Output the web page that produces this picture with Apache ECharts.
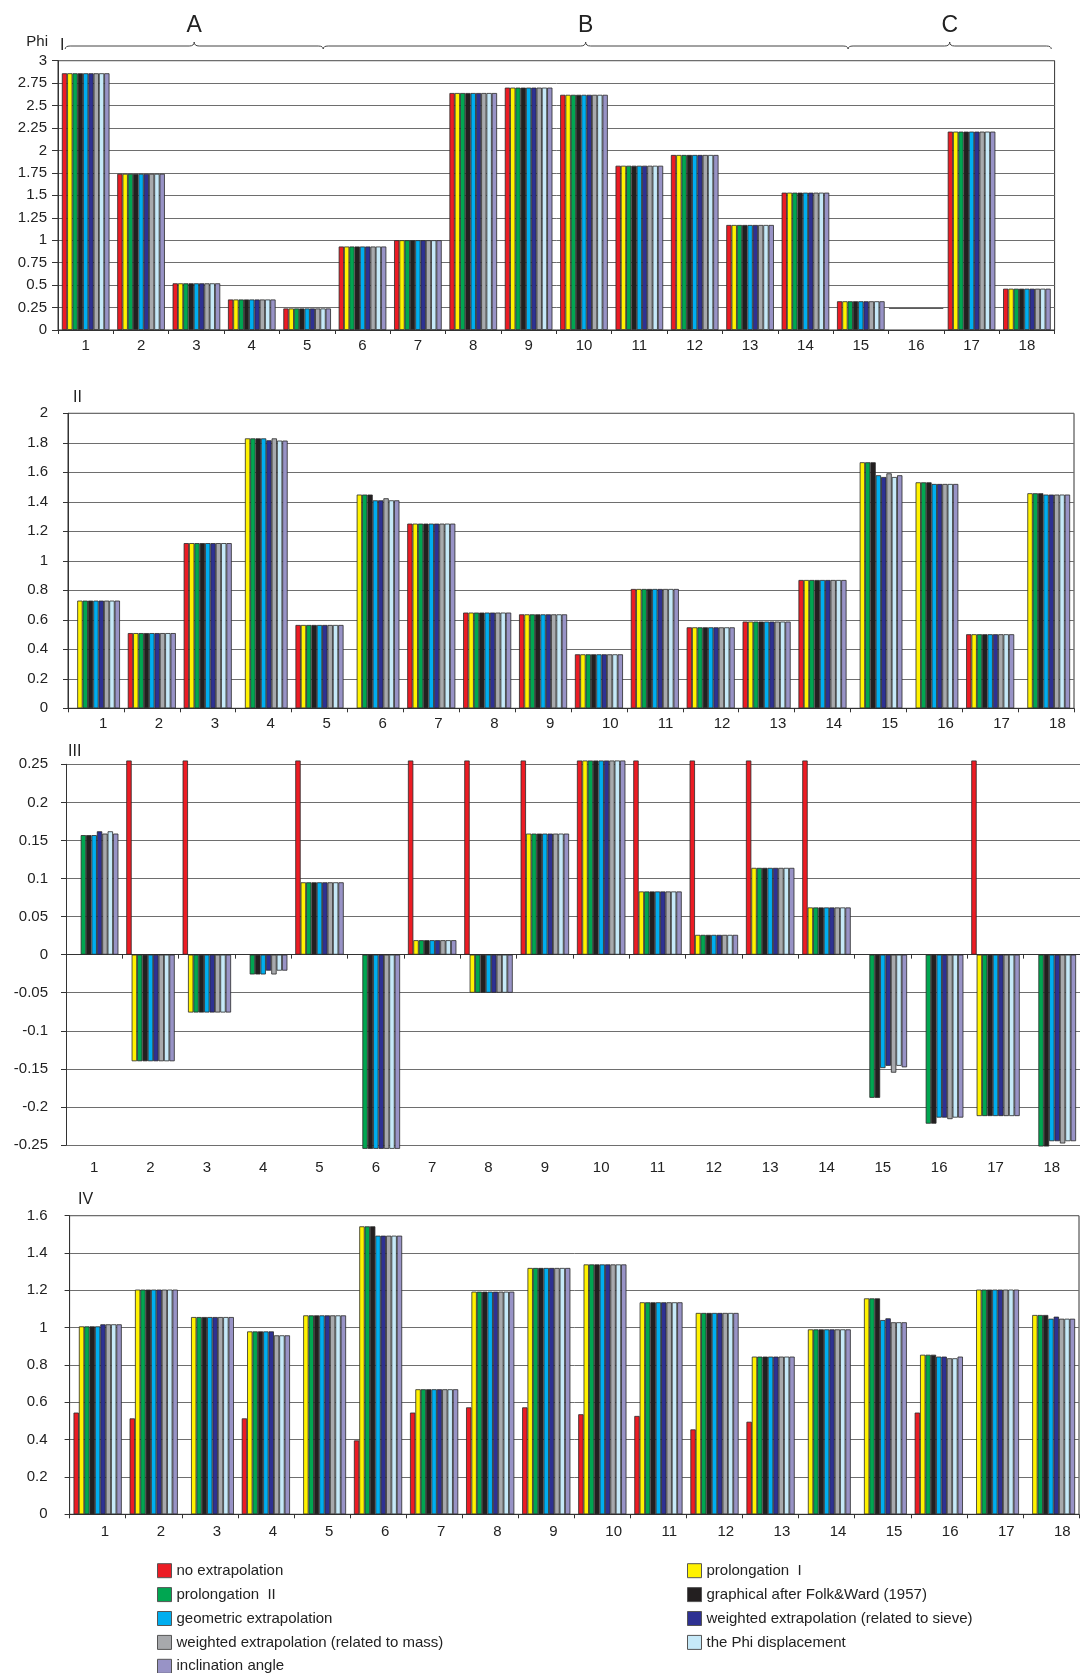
<!DOCTYPE html>
<html>
<head>
<meta charset="utf-8">
<script src="https://cdn.jsdelivr.net/npm/echarts@6/dist/echarts.min.js"></script>
<style>
  html, body { margin: 0; padding: 0; background: #ffffff; }
  #chart { width: 1080px; height: 1673px; }
</style>
</head>
<body>
<div id="chart"></div>
<script>
// ---- categories and method names ----
const categories = ['1', '2', '3', '4', '5', '6', '7', '8', '9', '10', '11', '12', '13', '14', '15', '16', '17', '18'];
const methodNames = [
  'no extrapolation',
  'prolongation  I',
  'prolongation  II',
  'graphical after Folk&Ward (1957)',
  'geometric extrapolation',
  'weighted extrapolation (related to sieve)',
  'weighted extrapolation (related to mass)',
  'the Phi displacement',
  'inclination angle'
];

// ---- panel I (Phi): every method gives the same value ----
const panelI_allMethods = [2.86, 1.74, 0.52, 0.34, 0.24, 0.93, 1.00, 2.64, 2.70, 2.62, 1.83, 1.95, 1.17, 1.53, 0.32, null, 2.21, 0.46];
// stray outline drawn for sample 16
const panelI_sample16Line = [['16', 0.24]];

// ---- panel II ----
const panelII_noExtrapolation = [null, 0.51, 1.12, null, 0.565, null, 1.252, 0.649, 0.637, 0.366, 0.809, 0.549, 0.588, 0.870, null, null, 0.502, null];
const panelII_prolongationI   = [0.73, 0.51, 1.12, 1.83, 0.565, 1.449, 1.252, 0.649, 0.637, 0.366, 0.809, 0.549, 0.588, 0.870, 1.668, 1.532, 0.502, 1.458];
const panelII_prolongationII  = [0.73, 0.51, 1.12, 1.83, 0.565, 1.449, 1.252, 0.649, 0.637, 0.366, 0.809, 0.549, 0.588, 0.870, 1.668, 1.532, 0.502, 1.458];
const panelII_folkWard        = [0.73, 0.51, 1.12, 1.83, 0.565, 1.449, 1.252, 0.649, 0.637, 0.366, 0.809, 0.549, 0.588, 0.870, 1.668, 1.532, 0.502, 1.458];
const panelII_geometric       = [0.73, 0.51, 1.12, 1.83, 0.565, 1.410, 1.252, 0.649, 0.637, 0.366, 0.809, 0.549, 0.588, 0.870, 1.580, 1.521, 0.502, 1.449];
const panelII_sieve           = [0.73, 0.51, 1.12, 1.817, 0.565, 1.410, 1.252, 0.649, 0.637, 0.366, 0.809, 0.549, 0.588, 0.870, 1.568, 1.521, 0.502, 1.449];
const panelII_mass            = [0.73, 0.51, 1.12, 1.83, 0.565, 1.424, 1.252, 0.649, 0.637, 0.366, 0.809, 0.549, 0.588, 0.870, 1.593, 1.521, 0.502, 1.449];
const panelII_phiDisplacement = [0.73, 0.51, 1.12, 1.815, 0.565, 1.410, 1.252, 0.649, 0.637, 0.366, 0.809, 0.549, 0.588, 0.870, 1.568, 1.521, 0.502, 1.449];
const panelII_inclination     = [0.73, 0.51, 1.12, 1.815, 0.565, 1.410, 1.252, 0.649, 0.637, 0.366, 0.809, 0.549, 0.588, 0.870, 1.580, 1.521, 0.502, 1.449];

// ---- panel III ----
const panelIII_noExtrapolation = [null, 0.255, 0.255, null, 0.255, null, 0.255, 0.255, 0.255, 0.255, 0.255, 0.255, 0.255, 0.255, null, null, 0.255, null];
const panelIII_prolongationI   = [null, -0.14, -0.076, null, 0.095, null, 0.019, -0.05, 0.159, 0.255, 0.083, 0.026, 0.114, 0.062, null, null, -0.212, null];
const panelIII_prolongationII  = [0.157, -0.14, -0.076, -0.026, 0.095, -0.255, 0.019, -0.05, 0.159, 0.255, 0.083, 0.026, 0.114, 0.062, -0.188, -0.222, -0.212, -0.252];
const panelIII_folkWard        = [0.157, -0.14, -0.076, -0.026, 0.095, -0.255, 0.019, -0.05, 0.159, 0.255, 0.083, 0.026, 0.114, 0.062, -0.188, -0.222, -0.212, -0.252];
const panelIII_geometric       = [0.157, -0.14, -0.076, -0.026, 0.095, -0.255, 0.019, -0.05, 0.159, 0.255, 0.083, 0.026, 0.114, 0.062, -0.149, -0.214, -0.212, -0.245];
const panelIII_sieve           = [0.162, -0.14, -0.076, -0.021, 0.095, -0.255, 0.019, -0.05, 0.159, 0.255, 0.083, 0.026, 0.114, 0.062, -0.146, -0.214, -0.212, -0.245];
const panelIII_mass            = [0.159, -0.14, -0.076, -0.026, 0.095, -0.255, 0.019, -0.05, 0.159, 0.255, 0.083, 0.026, 0.114, 0.062, -0.155, -0.216, -0.212, -0.248];
const panelIII_phiDisplacement = [0.162, -0.14, -0.076, -0.021, 0.095, -0.255, 0.019, -0.05, 0.159, 0.255, 0.083, 0.026, 0.114, 0.062, -0.146, -0.214, -0.212, -0.245];
const panelIII_inclination     = [0.159, -0.14, -0.076, -0.021, 0.095, -0.255, 0.019, -0.05, 0.159, 0.255, 0.083, 0.026, 0.114, 0.062, -0.148, -0.214, -0.212, -0.245];

// ---- panel IV ----
const panelIV_noExtrapolation = [0.545, 0.514, null, 0.514, null, 0.396, 0.545, 0.573, 0.573, 0.536, 0.527, 0.455, 0.496, null, null, 0.545, null, null];
const panelIV_prolongationI   = [1.007, 1.204, 1.057, 0.980, 1.066, 1.543, 0.670, 1.193, 1.320, 1.339, 1.136, 1.079, 0.845, 0.991, 1.157, 0.855, 1.204, 1.068];
const panelIV_prolongationII  = [1.007, 1.204, 1.057, 0.980, 1.066, 1.543, 0.670, 1.193, 1.320, 1.339, 1.136, 1.079, 0.845, 0.991, 1.157, 0.855, 1.204, 1.068];
const panelIV_folkWard        = [1.007, 1.204, 1.057, 0.980, 1.066, 1.543, 0.670, 1.193, 1.320, 1.339, 1.136, 1.079, 0.845, 0.991, 1.157, 0.855, 1.204, 1.068];
const panelIV_geometric       = [1.007, 1.204, 1.057, 0.980, 1.066, 1.493, 0.670, 1.193, 1.320, 1.339, 1.136, 1.079, 0.845, 0.991, 1.041, 0.845, 1.204, 1.048];
const panelIV_sieve           = [1.018, 1.204, 1.057, 0.980, 1.066, 1.493, 0.670, 1.193, 1.320, 1.339, 1.136, 1.079, 0.845, 0.991, 1.050, 0.845, 1.204, 1.059];
const panelIV_mass            = [1.018, 1.204, 1.057, 0.959, 1.066, 1.493, 0.670, 1.193, 1.320, 1.339, 1.136, 1.079, 0.845, 0.991, 1.029, 0.836, 1.204, 1.048];
const panelIV_phiDisplacement = [1.018, 1.204, 1.057, 0.959, 1.066, 1.493, 0.670, 1.193, 1.320, 1.339, 1.136, 1.079, 0.845, 0.991, 1.029, 0.836, 1.204, 1.048];
const panelIV_inclination     = [1.018, 1.204, 1.057, 0.959, 1.066, 1.493, 0.670, 1.193, 1.320, 1.339, 1.136, 1.079, 0.845, 0.991, 1.029, 0.845, 1.204, 1.048];

// ---- sample groups marked with braces above panel I ----
const sampleGroupLabels = ['A', 'B', 'C'];
// brace ends, in category widths from the left edge of panel I's plot
const braceEdges = [0.13, 4.79, 14.27, 17.94];

// ---- styling ----
const FONT = "'Liberation Sans', Arial, Helvetica, sans-serif";
const METHOD_COLORS = ['#ec1c24', '#fff200', '#00a651', '#231f20', '#00aeef', '#2e3192', '#a7a9ac', '#c6e9f8', '#9893c6'];
const TEXT_COLOR = '#222222';

const panelData = [
  Array(9).fill(panelI_allMethods),
  [panelII_noExtrapolation, panelII_prolongationI, panelII_prolongationII, panelII_folkWard, panelII_geometric, panelII_sieve, panelII_mass, panelII_phiDisplacement, panelII_inclination],
  [panelIII_noExtrapolation, panelIII_prolongationI, panelIII_prolongationII, panelIII_folkWard, panelIII_geometric, panelIII_sieve, panelIII_mass, panelIII_phiDisplacement, panelIII_inclination],
  [panelIV_noExtrapolation, panelIV_prolongationI, panelIV_prolongationII, panelIV_folkWard, panelIV_geometric, panelIV_sieve, panelIV_mass, panelIV_phiDisplacement, panelIV_inclination]
];

const grids = [
  { left: 58,   top: 60.7,   width: 996.6,  height: 269.3, show: true, borderColor: '#333', borderWidth: 1 },
  { left: 68,   top: 413.3,  width: 1006,   height: 295,   show: true, borderColor: '#333', borderWidth: 1 },
  { left: 66,   top: 764.3,  width: 1014,   height: 380.7 },
  { left: 69.6, top: 1215.7, width: 1009.4, height: 298.6, show: true, borderColor: '#333', borderWidth: 1 }
];

function valueAxis(gridIndex, min, max, interval, labelMargin, tickLen) {
  return {
    type: 'value', gridIndex, min, max, interval,
    axisLine: { show: true, lineStyle: { color: '#333', width: 1 } },
    axisTick: { show: true, length: tickLen, lineStyle: { color: '#333' } },
    axisLabel: { fontSize: 15, color: TEXT_COLOR, fontFamily: FONT, margin: labelMargin },
    splitLine: { show: true, lineStyle: { color: '#6e6e6e', width: 1 } }
  };
}

// labelShift: null keeps labels centred; a number left-aligns them that far right of the category centre
function categoryAxis(gridIndex, labelMargin, labelShift, extra) {
  const label = { fontSize: 15, color: TEXT_COLOR, fontFamily: FONT, margin: labelMargin, interval: 0 };
  if (labelShift !== null) {
    label.align = 'left';
    label.padding = [0, 0, 0, labelShift];
  }
  return Object.assign({
    type: 'category', gridIndex, data: categories, boundaryGap: true, position: 'bottom',
    axisLine: { show: true, lineStyle: { color: '#333', width: 1 } },
    axisTick: { show: true, length: 4, lineStyle: { color: '#333' } },
    axisLabel: label,
    splitLine: { show: false }
  }, extra || {});
}

const xAxes = [
  categoryAxis(0, 8, null),
  categoryAxis(1, 8, 3),
  // panel III: zero line with ticks, labels shown on a second axis at the bottom
  categoryAxis(2, 8, null, { axisLine: { show: true, onZero: true, lineStyle: { color: '#333', width: 1.2 } }, axisLabel: { show: false } }),
  categoryAxis(2, 15, null, { axisLine: { show: false, onZero: false }, axisTick: { show: false } }),
  categoryAxis(3, 10, 3)
];
const panelXAxis = [0, 1, 2, 4];

const yAxes = [
  valueAxis(0, 0, 3, 0.25, 11, 6),
  valueAxis(1, 0, 2, 0.2, 20, 5),
  valueAxis(2, -0.25, 0.25, 0.05, 18, 5),
  valueAxis(3, 0, 1.6, 0.2, 22, 5)
];

const series = [];
panelData.forEach((methodArrays, p) => {
  methodArrays.forEach((values, m) => {
    series.push({
      type: 'bar',
      name: methodNames[m],
      xAxisIndex: panelXAxis[p],
      yAxisIndex: p,
      data: values,
      barGap: '0%',
      barCategoryGap: '14%',
      clip: p !== 2,
      silent: true,
      itemStyle: { color: METHOD_COLORS[m], borderColor: '#2a2a2a', borderWidth: 0.8 }
    });
  });
});

// thin horizontal outline at sample 16 of panel I
series.push({
  type: 'custom',
  xAxisIndex: 0,
  yAxisIndex: 0,
  data: panelI_sample16Line,
  silent: true,
  z: 5,
  renderItem(params, api) {
    const pt = api.coord([api.value(0), api.value(1)]);
    const band = api.size([1, 0])[0];
    return {
      type: 'line',
      shape: { x1: pt[0] - band * 0.49, y1: pt[1], x2: pt[0] + band * 0.49, y2: pt[1] },
      style: { stroke: '#555', lineWidth: 1 }
    };
  }
});

function legendItems(indices) {
  return indices.map(i => ({ name: methodNames[i], itemStyle: { color: METHOD_COLORS[i], borderColor: '#555', borderWidth: 1 } }));
}
const legendCommon = {
  orient: 'vertical', top: 1563.2, height: 160, padding: 0, itemWidth: 14, itemHeight: 14, itemGap: 8.9,
  icon: 'rect', selectedMode: false,
  textStyle: { fontSize: 15, color: TEXT_COLOR, fontFamily: FONT }
};

const option = {
  animation: false,
  backgroundColor: '#ffffff',
  textStyle: { fontFamily: FONT },
  grid: grids,
  xAxis: xAxes,
  yAxis: yAxes,
  legend: [
    Object.assign({ left: 157, data: legendItems([0, 2, 4, 6, 8]) }, legendCommon),
    Object.assign({ left: 687, data: legendItems([1, 3, 5, 7]) }, legendCommon)
  ],
  series
};

const chart = echarts.init(document.getElementById('chart'), null, { renderer: 'canvas' });
chart.setOption(option);

// ---- panel captions and the sample-group braces above panel I ----
function textEl(text, x, y, size, align) {
  return {
    type: 'text', x, y, silent: true,
    style: { text, fill: TEXT_COLOR, font: size + 'px ' + FONT, textAlign: align || 'left', textVerticalAlign: 'middle' }
  };
}
const braceStyle = { stroke: '#444', lineWidth: 1, fill: null };
function lineEl(x1, y1, x2, y2) {
  return { type: 'line', silent: true, shape: { x1, y1, x2, y2 }, style: braceStyle };
}
function curveEl(x1, y1, cpx1, cpy1, x2, y2) {
  return { type: 'bezierCurve', silent: true, shape: { x1, y1, cpx1, cpy1, x2, y2 }, style: braceStyle };
}

const c0 = chart.convertToPixel({ xAxisIndex: 0 }, 0);
const c1 = chart.convertToPixel({ xAxisIndex: 0 }, 1);
const band = c1 - c0;
const plotLeft = c0 - band / 2;
const braceY = 46;

const graphics = [
  textEl('Phi', 48, 42, 15, 'right'),
  textEl('I', 60, 46, 16),
  textEl('II', 73, 398, 16),
  textEl('III', 68, 752, 16),
  textEl('IV', 78, 1200, 16)
];

sampleGroupLabels.forEach((label, i) => {
  const x0 = plotLeft + braceEdges[i] * band;
  const x1 = plotLeft + braceEdges[i + 1] * band;
  const xm = (x0 + x1) / 2;
  const y = braceY;
  graphics.push(
    curveEl(x0, y + 3, x0, y, x0 + 5, y),
    lineEl(x0 + 5, y, xm - 5, y),
    curveEl(xm - 5, y, xm, y, xm, y - 4),
    curveEl(xm, y - 4, xm, y, xm + 5, y),
    lineEl(xm + 5, y, x1 - 5, y),
    curveEl(x1 - 5, y, x1, y, x1, y + 3),
    textEl(label, xm, 26, 23, 'center')
  );
});

chart.setOption({ graphic: { elements: graphics } });
</script>
</body>
</html>
